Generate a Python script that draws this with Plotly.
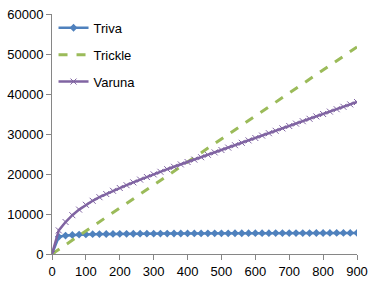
import plotly.graph_objects as go

x_vals = list(range(0, 901, 20))
triva = [0, 4300, 4600, 4750, 4850, 4900, 4950, 4980, 5000, 5020,
         5040, 5050, 5060, 5070, 5080, 5090, 5100, 5110, 5120, 5130,
         5140, 5150, 5150, 5160, 5170, 5170, 5180, 5190, 5190, 5200,
         5200, 5210, 5210, 5220, 5220, 5230, 5230, 5240, 5240, 5250,
         5250, 5260, 5260, 5270, 5270, 5280]
trickle_x = [0, 100, 200, 300, 400, 500, 600, 700, 800, 900]
trickle = [0, 5750, 11500, 17250, 23000, 28750, 34500, 40250, 46000, 51750]
varuna = [0, 5900, 8000, 9700, 11100, 12300, 13300, 14200, 15000, 15800,
          16500, 17200, 17900, 18600, 19250, 19900, 20550, 21200, 21800, 22400,
          23000, 23600, 24200, 24800, 25400, 26000, 26600, 27200, 27800, 28400,
          29000, 29600, 30200, 30800, 31400, 32000, 32600, 33200, 33800, 34400,
          35000, 35600, 36200, 36800, 37400, 38000]
x_ticks = [0, 100, 200, 300, 400, 500, 600, 700, 800, 900]
y_ticks = [0, 10000, 20000, 30000, 40000, 50000, 60000]

fig = go.Figure()
fig.add_trace(go.Scatter(x=x_vals, y=triva, name="Triva", mode="lines+markers",
                         line=dict(color="#4F81BD", width=2.5),
                         marker=dict(symbol="diamond", size=6, color="#4F81BD"),
                         legendgroup="a"))
fig.add_trace(go.Scatter(x=trickle_x, y=trickle, name="Trickle", mode="lines",
                         line=dict(color="#9BBB59", width=3, dash="dash"),
                         legendgroup="b"))
fig.add_trace(go.Scatter(x=x_vals, y=varuna, name="Varuna", mode="lines+markers",
                         line=dict(color="#8064A2", width=2.5),
                         marker=dict(symbol="x-thin-open", size=6,
                                     line=dict(color="#8064A2", width=1)),
                         legendgroup="c"))

axis_font = dict(family="Liberation Sans, Arial, sans-serif", size=13, color="#000000")
fig.update_layout(
    width=380, height=288,
    margin=dict(l=51, r=23, t=7, b=34),
    paper_bgcolor="white", plot_bgcolor="white",
    showlegend=True,
    legend=dict(x=0.005, y=1.005, xanchor="left", yanchor="top",
                font=axis_font, tracegroupgap=7, traceorder="grouped",
                itemwidth=30, bgcolor="rgba(0,0,0,0)"),
    xaxis=dict(range=[0, 900], tickvals=x_ticks, ticktext=[str(v) for v in x_ticks],
               showgrid=False, zeroline=False,
               showline=True, linecolor="#868686", linewidth=1,
               ticks="outside", tickcolor="#868686", ticklen=5,
               tickfont=axis_font, ticklabeloverflow="allow"),
    yaxis=dict(range=[0, 60000], tickvals=y_ticks, ticktext=[str(v) for v in y_ticks],
               showgrid=False, zeroline=False,
               showline=True, linecolor="#868686", linewidth=1,
               ticks="outside", tickcolor="#868686", ticklen=5,
               tickfont=axis_font, ticklabeloverflow="allow"),
)
fig.write_html("out.html")
